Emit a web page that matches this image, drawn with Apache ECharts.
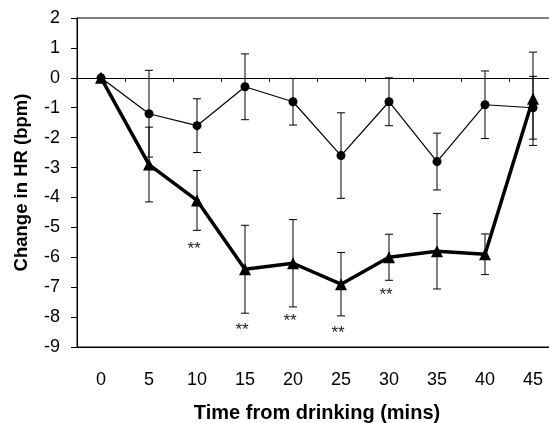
<!DOCTYPE html>
<html>
<head>
<meta charset="utf-8">
<script src="https://cdn.jsdelivr.net/npm/echarts@6/dist/echarts.min.js"></script>
<style>
html,body{margin:0;padding:0;background:#fff;}
#chart{width:549px;height:423px;}
</style>
</head>
<body>
<div id="chart"></div>
<script>
const times = ['0','5','10','15','20','25','30','35','40','45'];
const circleMean = [0, -1.2, -1.6, -0.3, -0.8, -2.6, -0.8, -2.8, -0.9, -1.0];
const circleErr  = [0, 1.45, 0.9, 1.1, 0.78, 1.43, 0.8, 0.95, 1.13, 1.05];
const triMean = [0, -2.9, -4.1, -6.4, -6.2, -6.9, -6.0, -5.8, -5.9, -0.7];
const triErr  = [0, 1.25, 1.0, 1.47, 1.46, 1.06, 0.77, 1.26, 0.68, 1.56];
const starTimes = ['10','15','20','25','30'];
const starY = [-5.6, -8.3, -8.0, -8.4, -7.15];

const FONT = 'Liberation Sans';

function errData(mean, err){
  return mean.map((m,i)=>[i, m-err[i], m+err[i]]).filter(d=>d[2]-d[1]>0);
}
function errRender(params, api){
  const x = api.value(0);
  const lo = api.coord([x, api.value(1)]);
  const hi = api.coord([x, api.value(2)]);
  const cw = 4;
  const st = {stroke:'#000', lineWidth:1};
  return {type:'group', children:[
    {type:'line', shape:{x1:lo[0],y1:lo[1],x2:hi[0],y2:hi[1]}, style:st},
    {type:'line', shape:{x1:lo[0]-cw,y1:lo[1],x2:lo[0]+cw,y2:lo[1]}, style:st},
    {type:'line', shape:{x1:hi[0]-cw,y1:hi[1],x2:hi[0]+cw,y2:hi[1]}, style:st}
  ]};
}

const chart = echarts.init(document.getElementById('chart'));
chart.setOption({
  animation:false,
  backgroundColor:'#fff',
  grid:{left:77, top:18, width:480, height:329, show:true, borderColor:'#000', borderWidth:1,
        backgroundColor:'transparent', containLabel:false, outerBoundsMode:'none'},
  xAxis:[
    {type:'category', data:times, position:'bottom', boundaryGap:true,
     axisLine:{show:true, onZero:false, lineStyle:{color:'#000', width:1}},
     axisTick:{show:false},
     axisLabel:{color:'#000', fontFamily:FONT, fontSize:18, margin:24},
     name:'Time from drinking (mins)', nameLocation:'middle', nameGap:56,
     nameTextStyle:{color:'#000', fontFamily:FONT, fontSize:20, fontWeight:'bold'},
     splitLine:{show:false}},
    {type:'category', data:times, position:'bottom', boundaryGap:true,
     axisLine:{show:true, onZero:true, lineStyle:{color:'#000', width:1}},
     axisTick:{show:true, length:4, lineStyle:{color:'#000'}},
     axisLabel:{show:false}, splitLine:{show:false}}
  ],
  yAxis:{type:'value', min:-9, max:2, interval:1,
    axisLine:{show:true, lineStyle:{color:'#000', width:1}},
    axisTick:{show:true, length:6, lineStyle:{color:'#000'}},
    axisLabel:{color:'#000', fontFamily:FONT, fontSize:18, margin:17,
      formatter:v=>String(v)},
    splitLine:{show:false},
    name:'Change in HR (bpm)', nameLocation:'middle', nameGap:46,
    nameTextStyle:{color:'#000', fontFamily:FONT, fontSize:18.5, fontWeight:'bold'}},
  series:[
    {type:'custom', xAxisIndex:0, renderItem:errRender, data:errData(circleMean,circleErr), z:1},
    {type:'custom', xAxisIndex:0, renderItem:errRender, data:errData(triMean,triErr), z:1},
    {type:'line', xAxisIndex:0, data:circleMean, symbol:'circle', symbolSize:9,
     lineStyle:{color:'#000', width:1.2}, itemStyle:{color:'#000'}, z:3},
    {type:'line', xAxisIndex:0, data:triMean, symbol:'triangle', symbolSize:12,
     lineStyle:{color:'#000', width:3.5}, itemStyle:{color:'#000'}, z:4},
    {type:'custom', xAxisIndex:0, data:starTimes.map((t,i)=>[times.indexOf(t), starY[i]]),
     renderItem:function(params, api){
       const p = api.coord([api.value(0), api.value(1)]);
       return {type:'text', style:{text:'**', x:p[0]-3, y:p[1]+4, align:'center', verticalAlign:'middle',
         font:'17px "Liberation Sans"', fill:'#222'}};
     }, z:5}
  ]
});
</script>
</body>
</html>
